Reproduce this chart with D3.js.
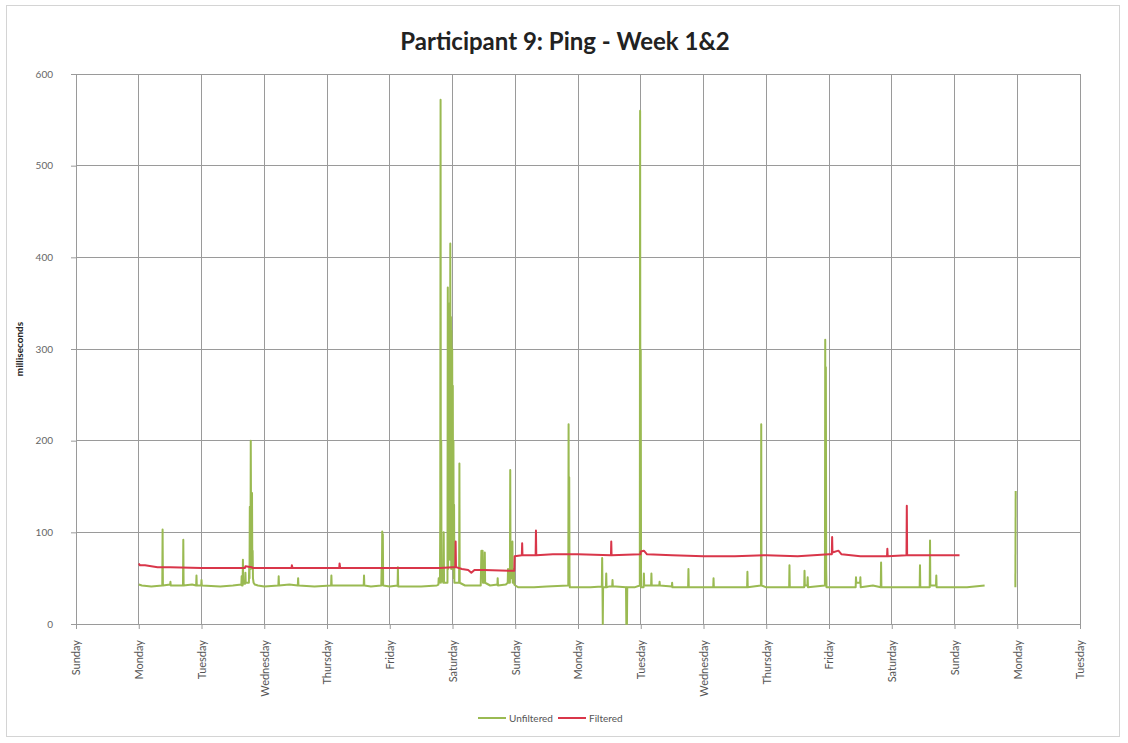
<!DOCTYPE html>
<html><head><meta charset="utf-8">
<script src="https://cdn.jsdelivr.net/npm/d3@7"></script>
<style>html,body{margin:0;padding:0;background:#fff;}svg{display:block;}</style>
</head><body>
<svg id="chart" width="1128" height="743"></svg>
<script>
const dayLabels = ["Sunday","Monday","Tuesday","Wednesday","Thursday","Friday","Saturday","Sunday","Monday","Tuesday","Wednesday","Thursday","Friday","Saturday","Sunday","Monday","Tuesday"];
const yTicks = [0,100,200,300,400,500,600];
const seriesNames = ["Unfiltered","Filtered"];

// [day offset from first Sunday, milliseconds]
const unfilteredWeek1 = [
[1.00,43],[1.05,42],[1.2,41],[1.375,42],[1.38,103],[1.385,42],[1.5,43],[1.505,46],[1.51,42],[1.705,42],[1.71,92],[1.715,42],[1.85,43],[1.915,42],[1.92,53],[1.925,42],[1.995,42],[2.0,48],[2.005,42],[2.3,41],[2.5,42],[2.635,43],[2.64,52],[2.645,42],[2.655,42],[2.66,70],[2.665,44],[2.695,44],[2.70,56],[2.705,45],[2.755,45],[2.76,62],[2.765,50],[2.77,128],[2.775,80],[2.78,60],[2.785,200],[2.79,110],[2.795,125],[2.80,70],[2.805,143],[2.81,60],[2.815,80],[2.82,50],[2.83,45],[2.85,43],[2.9,42],[3.0,41],[3.225,42],[3.23,52],[3.235,42],[3.4,43],[3.535,42],[3.54,50],[3.545,42],[3.8,41],[4.065,42],[4.07,53],[4.075,42],[4.3,42],[4.585,42],[4.59,53],[4.595,42],[4.7,41],[4.865,42],[4.87,60],[4.875,50],[4.88,101],[4.885,70],[4.89,98],[4.895,42],[5.0,41],[5.125,42],[5.13,62],[5.135,41],[5.5,41],[5.75,42],[5.775,43],[5.78,50],[5.79,45],[5.8,48],[5.805,120],[5.81,572],[5.815,45],[5.82,200],[5.825,50],[5.855,45],[5.86,100],[5.865,45],
[5.92,45],[5.925,367],[5.93,60],[5.935,340],[5.94,80],[5.945,330],[5.95,100],[5.955,350],[5.96,70],[5.965,415],[5.97,90],[5.975,335],[5.98,60],[5.985,320],[5.99,140],[5.995,300],[6.00,80],[6.005,260],[6.01,60],[6.015,200],[6.02,50],[6.025,130],[6.03,45],[6.105,45],[6.11,175],[6.115,45],
[6.2,42],[6.45,42],[6.455,60],[6.46,80],[6.465,50],[6.47,78],[6.475,60],[6.48,80],[6.485,45],[6.51,45],[6.515,78],[6.52,45],[6.6,42],[6.715,43],[6.72,50],[6.725,42],[6.85,43],[6.88,45],[6.885,60],[6.89,45],[6.915,45],[6.92,168],[6.925,50],[6.95,50],[6.955,90],[6.96,45],[6.975,45],[6.98,60],[6.985,43],[7.0,42]
];
const unfilteredWeek2 = [
[7.0,42],[7.05,40],[7.3,40],[7.5,41],[7.845,42],[7.85,218],[7.855,60],[7.86,160],[7.865,45],[7.87,40],[8.2,40],[8.38,41],[8.385,72],[8.39,40],[8.395,0],[8.4,40],[8.445,40],[8.45,55],[8.455,40],[8.5,41],[8.545,41],[8.55,48],[8.555,41],[8.6,41],[8.765,40],[8.77,0],[8.775,40],[8.78,0],[8.785,40],[8.9,40],[8.985,42],[8.99,560],[8.995,60],[9.0,299],[9.005,40],[9.045,40],[9.05,55],[9.055,42],[9.165,42],[9.17,55],[9.175,42],[9.295,42],[9.3,46],[9.305,42],[9.495,41],[9.5,45],[9.505,40],[9.755,40],[9.76,60],[9.765,40],[10.0,40],[10.155,40],[10.16,50],[10.165,40],[10.5,40],[10.695,40],[10.7,57],[10.705,40],[10.915,42],[10.92,218],[10.925,42],[11.0,40],[11.365,40],[11.37,64],[11.375,40],[11.605,40],[11.61,58],[11.615,42],[11.655,42],[11.66,51],[11.665,40],[11.935,42],[11.94,310],[11.945,50],[11.95,280],[11.955,60],[11.96,40],[12.2,40],[12.425,40],[12.43,51],[12.435,45],[12.495,45],[12.5,51],[12.505,40],[12.7,42],[12.825,40],[12.83,67],[12.835,40],[13.0,40],[13.2,40],[13.445,40],[13.45,64],[13.455,40],[13.605,40],[13.61,91],[13.615,42],[13.705,42],[13.71,53],[13.715,40],[13.9,40],[14.2,40],[14.48,42]
];
const unfilteredLate = [[14.97,40],[14.975,145]];

const filtered = [
[1.0,66],[1.02,64],[1.1,64],[1.3,62],[1.5,62],[2.0,61],[2.5,61],[2.69,61],[2.7,63],[2.8,62],[2.82,61],[3.0,61],[3.435,61],[3.44,64],[3.45,61],[4.0,61],[4.195,61],[4.2,66],[4.21,61],[4.5,61],[5.0,61],[5.5,61],[5.8,61],[6.0,62],[6.045,62],[6.05,90],[6.055,62],[6.15,60],[6.25,59],[6.3,56],[6.35,59],[6.5,59],[6.9,58],[6.985,58],[6.99,74],[7.105,75],[7.11,88],[7.115,75],[7.325,75],[7.33,102],[7.335,75],[7.6,76],[8.0,76],[8.525,75],[8.53,90],[8.535,75],[8.995,76],[9.0,79],[9.05,80],[9.1,76],[9.5,75],[10.0,74],[10.5,74],[11.0,75],[11.5,74],[12.0,76],[12.045,76],[12.05,95],[12.055,78],[12.15,80],[12.2,76],[12.5,74],[12.925,74],[12.93,82],[12.935,74],[13.235,75],[13.24,129],[13.245,75],[13.6,75],[14.08,75]
];

const svg = d3.select("#chart");
const W = 1128, H = 743;
const m = {left:76, right:48, top:74, bottom:119};
const x = d3.scaleLinear().domain([0,16]).range([m.left, W - m.right]);
const y = d3.scaleLinear().domain([0,600]).range([H - m.bottom, m.top]);
const green = "#9aba52", red = "#d9364a", grid = "#9a9a9a";
const font = "Lato, 'Open Sans', sans-serif";

svg.append("rect").attr("x",6.5).attr("y",5.5).attr("width",1113).attr("height",731)
  .attr("fill","#fff").attr("stroke","#d4d4d4");

// gridlines
svg.append("g").selectAll("line").data(yTicks).join("line")
  .attr("x1",x(0)).attr("x2",x(16)).attr("y1",d=>y(d)).attr("y2",d=>y(d))
  .attr("stroke",grid).attr("stroke-width",1).attr("shape-rendering","crispEdges");
svg.append("g").selectAll("line").data(d3.range(dayLabels.length)).join("line")
  .attr("x1",d=>x(d)).attr("x2",d=>x(d)).attr("y1",y(600)).attr("y2",y(0))
  .attr("stroke",grid).attr("stroke-width",1).attr("shape-rendering","crispEdges");

// axes
const yAxis = svg.append("g").attr("transform",`translate(${x(0)},0)`)
  .call(d3.axisLeft(y).tickValues(yTicks).tickSize(5).tickPadding(18));
yAxis.select(".domain").attr("stroke",grid);
yAxis.selectAll(".tick line").attr("stroke",grid);
yAxis.selectAll("text").attr("font-family",font).attr("font-size",10).attr("fill","#666");

const xAxis = svg.append("g").attr("transform",`translate(0,${y(0)})`)
  .call(d3.axisBottom(x).tickValues(d3.range(dayLabels.length)).tickFormat(i=>dayLabels[i]).tickSize(5));
xAxis.select(".domain").attr("stroke",grid);
xAxis.selectAll(".tick line").attr("stroke",grid);
xAxis.selectAll("text")
  .attr("font-family",font).attr("font-size",11).attr("fill","#555")
  .attr("text-anchor","end").attr("dy","0.35em").attr("dx","0")
  .attr("transform","translate(0,16) rotate(-90)").attr("y",0).attr("x",0);

// lines
const line = d3.line().x(d=>x(d[0])).y(d=>y(d[1]));
[unfilteredWeek1, unfilteredWeek2, unfilteredLate].forEach(s=>{
  svg.append("path").datum(s).attr("d",line).attr("fill","none")
    .attr("stroke",green).attr("stroke-width",2).attr("stroke-linejoin","round");
});
svg.append("path").datum(filtered).attr("d",line).attr("fill","none")
  .attr("stroke",red).attr("stroke-width",2).attr("stroke-linejoin","round");

// title
svg.append("text").attr("x",565).attr("y",50).attr("text-anchor","middle")
  .attr("font-family",font).attr("font-weight","bold").attr("font-size",24)
  .attr("fill","#222").text("Participant 9: Ping - Week 1&2");

// y-axis title
svg.append("text").attr("transform","translate(23,349) rotate(-90)").attr("text-anchor","middle")
  .attr("font-family",font).attr("font-weight","bold").attr("font-size",10)
  .attr("fill","#222").text("milliseconds");

// legend
const leg = svg.append("g").attr("font-family",font).attr("font-size",10).attr("fill","#555");
const legItems = [{name:seriesNames[0],c:green,x:478},{name:seriesNames[1],c:red,x:558}];
legItems.forEach(d=>{
  leg.append("line").attr("x1",d.x).attr("x2",d.x+28).attr("y1",718).attr("y2",718).attr("stroke",d.c).attr("stroke-width",2);
  leg.append("text").attr("x",d.x+31).attr("y",718).attr("dy","0.35em").text(d.name);
});
</script>
</body></html>
